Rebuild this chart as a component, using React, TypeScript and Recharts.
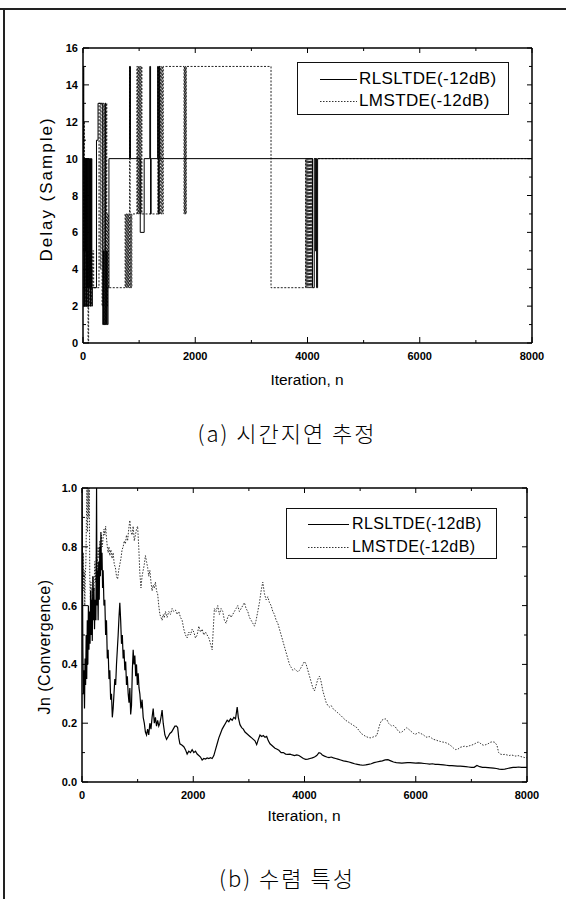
import React from 'react';
import { LineChart, Line, XAxis, YAxis } from 'recharts';

// ---------- axis ticks ----------
const iterationTicks = [0, 1000, 2000, 3000, 4000, 5000, 6000, 7000, 8000];
const iterationLabels = [0, 2000, 4000, 6000, 8000];
const delayTicks = [0, 1, 2, 3, 4, 5, 6, 7, 8, 9, 10, 11, 12, 13, 14, 15, 16];
const delayLabels = [0, 2, 4, 6, 8, 10, 12, 14, 16];
const convTicks = [0, 0.1, 0.2, 0.3, 0.4, 0.5, 0.6, 0.7, 0.8, 0.9, 1.0];
const convLabels = [0, 0.2, 0.4, 0.6, 0.8, 1.0];

const seriesNames = ['RLSLTDE(-12dB)', 'LMSTDE(-12dB)'];

// ---------- (a) delay estimate, step data [iteration, delay] ----------
const rlsDelay: [number, number][] = [
  [0, 9], [6, 15], [14, 2], [22, 10], [30, 2], [38, 10], [46, 5], [54, 10], [62, 2], [70, 10],
  [78, 3], [86, 10], [94, 2], [102, 10], [110, 3], [118, 10], [126, 2], [134, 10], [142, 3],
  [150, 10], [158, 2], [166, 3], [240, 11], [268, 13], [352, 1], [366, 5], [378, 1], [392, 13],
  [404, 1], [418, 5], [432, 1], [446, 3], [462, 10], [830, 15], [846, 10], [1020, 6], [1090, 10],
  [1190, 15], [1204, 7], [1214, 10], [1330, 15], [1342, 7], [1356, 15], [1368, 10], [4090, 3],
  [4120, 10], [4140, 5], [4152, 10], [4162, 3], [4180, 10], [8000, 10],
];

const lmsDelay: [number, number][] = [
  [0, 15], [8, 5], [16, 12], [24, 3], [32, 8], [40, 2], [48, 5], [56, 3], [64, 9], [72, 2],
  [80, 5], [90, 0], [100, 2], [112, 3], [124, 5], [136, 2], [148, 4], [160, 3], [172, 5], [190, 3],
  [285, 13], [305, 4], [318, 13], [340, 2], [356, 13], [372, 1], [388, 13], [402, 1], [414, 13],
  [424, 2], [436, 7], [452, 3], [750, 7], [760, 3], [770, 7], [780, 3], [790, 7], [800, 3],
  [810, 7], [820, 3], [830, 15], [840, 3], [850, 7], [860, 3], [870, 7], [960, 15], [970, 7],
  [980, 15], [990, 7], [1000, 15], [1010, 7], [1020, 15], [1030, 7], [1040, 15], [1050, 7],
  [1335, 15], [1345, 7], [1360, 15], [1370, 7], [1385, 15], [1395, 7], [1410, 15], [1420, 7],
  [1430, 15], [1800, 7], [1808, 15], [1816, 7], [1824, 15], [1832, 7], [1840, 15], [3350, 3],
  [3965, 10], [3975, 3], [3985, 10], [3995, 3], [4005, 10], [4015, 3], [4025, 10], [4035, 3],
  [4045, 10], [4055, 3], [4065, 10], [4075, 3], [4085, 10], [8000, 10],
];

// ---------- (b) convergence [iteration, Jn] ----------
const rlsConv: [number, number][] = [
  [0, 1.0], [8, 0.75], [15, 0.45], [25, 0.3], [35, 0.38], [45, 0.25], [55, 0.42], [65, 0.33],
  [75, 0.5], [85, 0.35], [95, 0.55], [105, 0.4], [115, 0.6], [125, 0.45], [135, 0.58], [145, 0.47],
  [155, 0.65], [165, 0.5], [175, 0.62], [185, 0.48], [195, 0.7], [205, 0.55], [215, 0.66],
  [225, 0.52], [235, 0.62], [250, 0.55], [262, 1.0], [270, 0.6], [280, 0.72], [290, 0.55],
  [300, 0.75], [310, 0.62], [320, 0.8], [330, 0.7], [340, 0.85], [350, 0.72], [360, 0.78],
  [370, 0.66], [380, 0.72], [395, 0.6], [410, 0.62], [425, 0.5], [440, 0.55], [455, 0.42],
  [470, 0.45], [485, 0.35], [500, 0.38], [515, 0.28], [530, 0.3], [545, 0.22], [560, 0.25],
  [575, 0.3], [590, 0.35], [605, 0.33], [620, 0.4], [635, 0.45], [650, 0.5], [665, 0.56],
  [680, 0.61], [695, 0.55], [710, 0.47], [725, 0.5], [740, 0.42], [755, 0.45], [770, 0.38],
  [785, 0.41], [800, 0.33], [815, 0.36], [830, 0.3], [845, 0.27], [860, 0.32], [875, 0.23],
  [890, 0.26], [905, 0.38], [920, 0.45], [935, 0.4], [950, 0.43], [965, 0.36], [980, 0.4],
  [995, 0.33], [1010, 0.37], [1025, 0.32], [1040, 0.3], [1060, 0.25], [1080, 0.28], [1100, 0.22],
  [1120, 0.2], [1140, 0.17], [1160, 0.16], [1180, 0.18], [1200, 0.16], [1220, 0.2], [1240, 0.18],
  [1260, 0.22], [1280, 0.25], [1300, 0.2], [1320, 0.22], [1340, 0.19], [1360, 0.21], [1380, 0.19],
  [1400, 0.2], [1420, 0.22], [1440, 0.245], [1460, 0.2], [1490, 0.16], [1520, 0.145], [1550, 0.155],
  [1580, 0.165], [1610, 0.17], [1640, 0.18], [1670, 0.19], [1700, 0.19], [1720, 0.185],
  [1740, 0.15], [1760, 0.13], [1800, 0.125], [1830, 0.12], [1860, 0.11], [1890, 0.095],
  [1920, 0.105], [1950, 0.1], [1980, 0.11], [2010, 0.1], [2040, 0.105], [2070, 0.095], [2100, 0.09],
  [2130, 0.085], [2160, 0.075], [2190, 0.08], [2220, 0.078], [2250, 0.082], [2280, 0.08],
  [2310, 0.083], [2340, 0.08], [2370, 0.09], [2400, 0.11], [2430, 0.13], [2460, 0.15],
  [2490, 0.165], [2520, 0.18], [2550, 0.19], [2580, 0.2], [2610, 0.21], [2640, 0.205],
  [2670, 0.215], [2700, 0.21], [2730, 0.22], [2760, 0.215], [2790, 0.255], [2810, 0.22],
  [2840, 0.195], [2870, 0.185], [2900, 0.18], [2930, 0.17], [2960, 0.165], [2990, 0.16],
  [3020, 0.155], [3050, 0.15], [3080, 0.145], [3110, 0.14], [3140, 0.127], [3170, 0.145],
  [3200, 0.16], [3230, 0.155], [3260, 0.158], [3290, 0.152], [3320, 0.155], [3350, 0.14],
  [3380, 0.13], [3410, 0.125], [3440, 0.12], [3470, 0.115], [3500, 0.112], [3540, 0.108],
  [3580, 0.1], [3620, 0.1], [3660, 0.095], [3700, 0.094], [3740, 0.095], [3780, 0.092],
  [3820, 0.09], [3860, 0.092], [3900, 0.09], [3940, 0.085], [3980, 0.08], [4020, 0.077],
  [4060, 0.078], [4100, 0.08], [4140, 0.082], [4180, 0.085], [4220, 0.09], [4260, 0.1],
  [4290, 0.098], [4320, 0.092], [4360, 0.088], [4400, 0.085], [4440, 0.083], [4480, 0.085],
  [4520, 0.082], [4560, 0.08], [4600, 0.078], [4650, 0.075], [4700, 0.072], [4750, 0.07],
  [4800, 0.068], [4850, 0.065], [4900, 0.062], [4950, 0.06], [5000, 0.058], [5050, 0.057],
  [5100, 0.058], [5150, 0.06], [5200, 0.062], [5250, 0.066], [5300, 0.068], [5350, 0.07],
  [5400, 0.072], [5450, 0.075], [5500, 0.076], [5550, 0.072], [5600, 0.068], [5650, 0.066],
  [5700, 0.065], [5750, 0.064], [5800, 0.065], [5850, 0.066], [5900, 0.066], [5950, 0.065],
  [6000, 0.064], [6050, 0.065], [6100, 0.064], [6150, 0.063], [6200, 0.062], [6250, 0.061],
  [6300, 0.062], [6350, 0.06], [6400, 0.06], [6450, 0.059], [6500, 0.058], [6550, 0.057],
  [6600, 0.056], [6650, 0.056], [6700, 0.055], [6750, 0.054], [6800, 0.054], [6850, 0.053],
  [6900, 0.052], [6950, 0.051], [7000, 0.05], [7050, 0.05], [7100, 0.056], [7150, 0.052],
  [7200, 0.05], [7250, 0.05], [7300, 0.049], [7350, 0.048], [7400, 0.047], [7450, 0.046],
  [7500, 0.044], [7550, 0.043], [7600, 0.044], [7650, 0.046], [7700, 0.048], [7750, 0.05],
  [7800, 0.05], [7850, 0.051], [7900, 0.05], [7950, 0.05], [8000, 0.05],
];

const lmsConv: [number, number][] = [
  [0, 0.75], [8, 0.8], [16, 0.7], [24, 0.78], [32, 0.65], [40, 0.72], [50, 0.6], [60, 0.7],
  [70, 0.75], [80, 0.9], [90, 1.0], [100, 0.85], [110, 1.0], [120, 0.9], [130, 1.0], [140, 0.7],
  [150, 0.62], [160, 0.68], [170, 0.58], [180, 0.66], [190, 0.6], [200, 0.7], [215, 0.65],
  [230, 0.75], [245, 0.68], [260, 0.78], [275, 0.72], [290, 0.8], [305, 0.76], [320, 0.82],
  [335, 0.78], [350, 0.84], [365, 0.8], [380, 0.83], [395, 0.86], [410, 0.84], [425, 0.87],
  [440, 0.83], [455, 0.8], [470, 0.78], [485, 0.8], [500, 0.77], [520, 0.79], [540, 0.76],
  [560, 0.78], [580, 0.74], [600, 0.73], [620, 0.7], [640, 0.69], [660, 0.72], [680, 0.74],
  [700, 0.76], [720, 0.79], [740, 0.8], [760, 0.82], [780, 0.81], [800, 0.84], [820, 0.82],
  [840, 0.86], [860, 0.89], [880, 0.85], [900, 0.84], [920, 0.87], [940, 0.82], [960, 0.84],
  [980, 0.86], [1000, 0.87], [1020, 0.8], [1040, 0.71], [1060, 0.66], [1080, 0.7], [1100, 0.72],
  [1120, 0.74], [1140, 0.77], [1160, 0.75], [1180, 0.73], [1200, 0.7], [1220, 0.72], [1240, 0.68],
  [1260, 0.65], [1280, 0.67], [1300, 0.66], [1320, 0.68], [1340, 0.65], [1360, 0.64], [1380, 0.6],
  [1400, 0.57], [1420, 0.56], [1440, 0.55], [1460, 0.57], [1480, 0.56], [1500, 0.58], [1530, 0.56],
  [1560, 0.58], [1590, 0.57], [1620, 0.59], [1650, 0.58], [1680, 0.585], [1710, 0.57], [1740, 0.58],
  [1770, 0.56], [1800, 0.55], [1830, 0.52], [1860, 0.5], [1890, 0.49], [1920, 0.51], [1950, 0.5],
  [1980, 0.52], [2010, 0.51], [2040, 0.49], [2070, 0.5], [2100, 0.53], [2130, 0.51], [2160, 0.52],
  [2190, 0.5], [2220, 0.51], [2250, 0.5], [2280, 0.49], [2310, 0.47], [2340, 0.45], [2360, 0.52],
  [2380, 0.59], [2410, 0.58], [2440, 0.6], [2470, 0.57], [2500, 0.59], [2530, 0.58], [2560, 0.55],
  [2590, 0.54], [2620, 0.56], [2650, 0.57], [2680, 0.56], [2710, 0.57], [2740, 0.58], [2770, 0.59],
  [2800, 0.6], [2830, 0.58], [2860, 0.59], [2890, 0.6], [2920, 0.61], [2950, 0.59], [2980, 0.58],
  [3010, 0.56], [3040, 0.55], [3070, 0.54], [3100, 0.53], [3130, 0.55], [3160, 0.58], [3190, 0.61],
  [3220, 0.65], [3250, 0.68], [3280, 0.64], [3310, 0.62], [3340, 0.63], [3370, 0.61], [3400, 0.6],
  [3430, 0.58], [3460, 0.57], [3490, 0.55], [3520, 0.54], [3550, 0.52], [3580, 0.5], [3610, 0.48],
  [3640, 0.46], [3670, 0.44], [3700, 0.42], [3730, 0.4], [3760, 0.39], [3790, 0.38], [3820, 0.385],
  [3850, 0.38], [3880, 0.375], [3910, 0.38], [3940, 0.39], [3970, 0.4], [4000, 0.41], [4030, 0.4],
  [4060, 0.38], [4090, 0.36], [4120, 0.34], [4150, 0.32], [4180, 0.31], [4210, 0.33], [4240, 0.35],
  [4270, 0.36], [4300, 0.34], [4330, 0.31], [4360, 0.29], [4390, 0.27], [4420, 0.26], [4450, 0.255],
  [4480, 0.26], [4510, 0.25], [4540, 0.245], [4570, 0.24], [4600, 0.235], [4630, 0.23],
  [4660, 0.225], [4700, 0.217], [4740, 0.21], [4780, 0.205], [4820, 0.2], [4860, 0.195],
  [4900, 0.19], [4940, 0.185], [4980, 0.175], [5020, 0.165], [5060, 0.16], [5100, 0.155],
  [5140, 0.152], [5180, 0.15], [5220, 0.152], [5260, 0.155], [5300, 0.158], [5330, 0.18],
  [5360, 0.2], [5390, 0.21], [5420, 0.213], [5450, 0.215], [5480, 0.212], [5510, 0.2],
  [5540, 0.195], [5570, 0.19], [5600, 0.192], [5630, 0.188], [5660, 0.18], [5690, 0.172],
  [5720, 0.168], [5750, 0.17], [5780, 0.175], [5810, 0.18], [5840, 0.185], [5870, 0.18],
  [5900, 0.175], [5930, 0.17], [5960, 0.165], [5990, 0.162], [6020, 0.165], [6050, 0.168],
  [6080, 0.166], [6110, 0.163], [6140, 0.16], [6170, 0.155], [6200, 0.152], [6240, 0.155],
  [6280, 0.15], [6320, 0.145], [6360, 0.143], [6400, 0.14], [6440, 0.138], [6480, 0.136],
  [6520, 0.135], [6560, 0.132], [6600, 0.128], [6640, 0.122], [6680, 0.115], [6720, 0.11],
  [6760, 0.112], [6800, 0.118], [6840, 0.12], [6880, 0.122], [6920, 0.12], [6960, 0.123],
  [7000, 0.125], [7040, 0.128], [7080, 0.132], [7120, 0.136], [7150, 0.134], [7180, 0.128],
  [7220, 0.125], [7260, 0.127], [7300, 0.13], [7340, 0.135], [7380, 0.137], [7420, 0.135],
  [7460, 0.125], [7490, 0.1], [7520, 0.095], [7560, 0.093], [7600, 0.094], [7640, 0.092],
  [7680, 0.09], [7720, 0.092], [7760, 0.09], [7800, 0.088], [7840, 0.09], [7880, 0.087],
  [7920, 0.085], [7960, 0.083], [8000, 0.082],
];

const toRows = (pts: [number, number][]) => pts.map(([x, y]) => ({ x, y }));

const FONT = "'Liberation Sans', Arial, Helvetica, sans-serif";
const KFONT = "'Noto Sans CJK KR', 'Noto Sans', sans-serif";

const isLabel = (labels: number[], v: number) => labels.some((l) => Math.abs(l - v) < 1e-9);

const makeBottomTick = (labels: number[], fmt: (v: number) => string) => (props: any) => {
  const { x, y, payload } = props;
  const major = isLabel(labels, payload.value);
  return (
    <g>
      <line x1={x} y1={y} x2={x} y2={y - (major ? 6 : 3)} stroke="#000" strokeWidth={1} />
      {major && (
        <text x={x} y={y + 17} textAnchor="middle" fontSize={11} fontWeight="bold" fontFamily={FONT} fill="#000">
          {fmt(payload.value)}
        </text>
      )}
    </g>
  );
};

const makeLeftTick = (labels: number[], fmt: (v: number) => string) => (props: any) => {
  const { x, y, payload } = props;
  const major = isLabel(labels, payload.value);
  return (
    <g>
      <line x1={x} y1={y} x2={x + (major ? 6 : 3)} y2={y} stroke="#000" strokeWidth={1} />
      {major && (
        <text x={x - 5} y={y + 4} textAnchor="end" fontSize={11} fontWeight="bold" fontFamily={FONT} fill="#000">
          {fmt(payload.value)}
        </text>
      )}
    </g>
  );
};

const makeTopTick = (labels: number[]) => (props: any) => {
  const { x, y, payload } = props;
  const major = isLabel(labels, payload.value);
  return <line x1={x} y1={y} x2={x} y2={y + (major ? 5 : 3)} stroke="#000" strokeWidth={1} />;
};

const makeRightTick = (labels: number[]) => (props: any) => {
  const { x, y, payload } = props;
  const major = isLabel(labels, payload.value);
  return <line x1={x} y1={y} x2={x - (major ? 5 : 3)} y2={y} stroke="#000" strokeWidth={1} />;
};

const axisLine = { stroke: '#000', strokeWidth: 1.5 };

const Legend = ({ left, top, width, height, lineX1, lineX2, textX, rows, fontSize }: any) => (
  <div
    style={{
      position: 'absolute',
      left,
      top,
      width,
      height,
      border: '1px solid #111',
      boxSizing: 'border-box',
      background: '#fff',
    }}
  >
    {seriesNames.map((name, i) => (
      <div key={name} style={{ position: 'absolute', left: 0, top: rows[i] - top - 10, height: 20, width: width - 2 }}>
        <svg style={{ position: 'absolute', left: lineX1 - left, top: 9 }} width={lineX2 - lineX1} height={3}>
          <line
            x1={0}
            y1={1.5}
            x2={lineX2 - lineX1}
            y2={1.5}
            stroke={i === 0 ? '#000' : '#333'}
            strokeWidth={1}
            strokeDasharray={i === 0 ? undefined : '1.5 1.5'}
          />
        </svg>
        <span
          style={{
            position: 'absolute',
            left: textX - left - 1,
            top: 0,
            lineHeight: '20px',
            fontSize,
            letterSpacing: 0.4,
            fontFamily: FONT,
            color: '#000',
            whiteSpace: 'nowrap',
          }}
        >
          {name}
        </span>
      </div>
    ))}
  </div>
);

const textStyle = (extra: any) => ({
  position: 'absolute' as const,
  whiteSpace: 'nowrap' as const,
  fontFamily: FONT,
  color: '#000',
  ...extra,
});

const sharedAxis = {
  type: 'number' as const,
  allowDataOverflow: true,
  interval: 0 as const,
  tickSize: 0,
  tickMargin: 0,
  tickLine: false,
  axisLine,
};

export default function App() {
  const fmtInt = (v: number) => String(v);
  const fmt1 = (v: number) => v.toFixed(1);
  return (
    <div style={{ position: 'absolute', left: 0, top: 0, width: 566, height: 899, background: '#fff', overflow: 'hidden' }}>
      {/* page frame */}
      <div style={{ position: 'absolute', left: 0, top: 8, width: 566, height: 1.5, background: '#222' }} />
      <div style={{ position: 'absolute', left: 3, top: 8, width: 1.5, height: 891, background: '#222' }} />

      {/* ---------- (a) ---------- */}
      <LineChart
        width={566}
        height={400}
        margin={{ top: 47, right: 33, bottom: 56, left: 82 }}
        style={{ position: 'absolute', left: 0, top: 0 }}
      >
        <XAxis {...sharedAxis} xAxisId="b" dataKey="x" domain={[0, 8000]} ticks={iterationTicks} height={1}
          tick={makeBottomTick(iterationLabels, fmtInt)} />
        <XAxis {...sharedAxis} xAxisId="t" orientation="top" dataKey="x" domain={[0, 8000]} ticks={iterationTicks} height={1}
          tick={makeTopTick(iterationLabels)} />
        <YAxis {...sharedAxis} yAxisId="l" domain={[0, 16]} ticks={delayTicks} width={1}
          tick={makeLeftTick(delayLabels, fmtInt)} />
        <YAxis {...sharedAxis} yAxisId="r" orientation="right" domain={[0, 16]} ticks={delayTicks} width={1}
          tick={makeRightTick(delayLabels)} />
        <Line
          xAxisId="b"
          yAxisId="l"
          data={toRows(lmsDelay)}
          dataKey="y"
          type="stepAfter"
          stroke="#222"
          strokeWidth={1}
          strokeDasharray="2 1.5"
          dot={false}
          activeDot={false}
          isAnimationActive={false}
        />
        <Line
          xAxisId="b"
          yAxisId="l"
          data={toRows(rlsDelay)}
          dataKey="y"
          type="stepAfter"
          stroke="#000"
          strokeWidth={1}
          dot={false}
          activeDot={false}
          isAnimationActive={false}
        />
      </LineChart>
      <Legend left={297} top={62} width={212} height={53} lineX1={319} lineX2={356} textX={359} rows={[78, 100]} fontSize={17} />
      <div style={textStyle({ left: 47, top: 189, fontSize: 17, letterSpacing: 2, transform: 'translate(-50%, -50%) rotate(-90deg)' })}>
        Delay (Sample)
      </div>
      <div style={textStyle({ left: 307, top: 380, fontSize: 15.5, transform: 'translate(-50%, -50%)' })}>Iteration, n</div>
      <div style={textStyle({ left: 287, top: 432, fontSize: 22, fontFamily: KFONT, fontWeight: 300, letterSpacing: 2, transform: 'translate(-50%, -50%)' })}>
        (a) 시간지연 추정
      </div>

      {/* ---------- (b) ---------- */}
      <LineChart
        width={566}
        height={400}
        margin={{ top: 47, right: 38, bottom: 57, left: 81 }}
        style={{ position: 'absolute', left: 0, top: 440 }}
      >
        <XAxis {...sharedAxis} xAxisId="b" dataKey="x" domain={[0, 8000]} ticks={iterationTicks} height={1}
          tick={makeBottomTick(iterationLabels, fmtInt)} />
        <XAxis {...sharedAxis} xAxisId="t" orientation="top" dataKey="x" domain={[0, 8000]} ticks={iterationTicks} height={1}
          tick={makeTopTick(iterationLabels)} />
        <YAxis {...sharedAxis} yAxisId="l" domain={[0, 1]} ticks={convTicks} width={1}
          tick={makeLeftTick(convLabels, fmt1)} />
        <YAxis {...sharedAxis} yAxisId="r" orientation="right" domain={[0, 1]} ticks={convTicks} width={1}
          tick={makeRightTick(convLabels)} />
        <Line
          xAxisId="b"
          yAxisId="l"
          data={toRows(lmsConv)}
          dataKey="y"
          type="linear"
          stroke="#333"
          strokeWidth={1}
          strokeDasharray="1.5 1.5"
          dot={false}
          activeDot={false}
          isAnimationActive={false}
        />
        <Line
          xAxisId="b"
          yAxisId="l"
          data={toRows(rlsConv)}
          dataKey="y"
          type="linear"
          stroke="#000"
          strokeWidth={1.2}
          dot={false}
          activeDot={false}
          isAnimationActive={false}
        />
      </LineChart>
      <Legend left={286} top={508} width={211} height={51} lineX1={307} lineX2={348} textX={352} rows={[523, 546]} fontSize={16} />
      <div style={textStyle({ left: 45, top: 647, fontSize: 16, letterSpacing: 0.5, transform: 'translate(-50%, -50%) rotate(-90deg)' })}>
        Jn (Convergence)
      </div>
      <div style={textStyle({ left: 304, top: 816, fontSize: 15.5, transform: 'translate(-50%, -50%)' })}>Iteration, n</div>
      <div style={textStyle({ left: 287, top: 877, fontSize: 22, fontFamily: KFONT, fontWeight: 300, letterSpacing: 2, transform: 'translate(-50%, -50%)' })}>
        (b) 수렴 특성
      </div>
    </div>
  );
}
